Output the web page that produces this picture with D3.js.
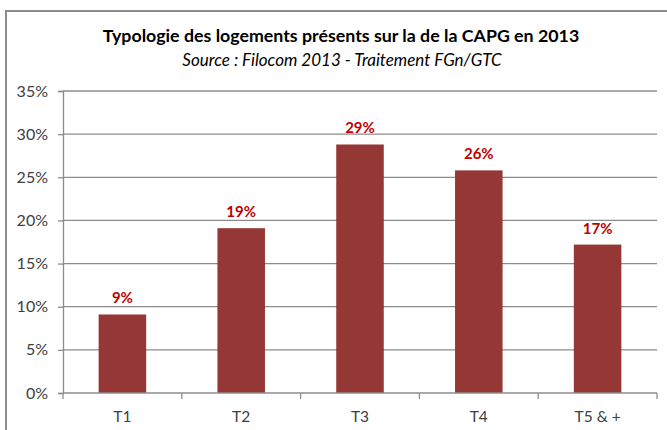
<!DOCTYPE html>
<html>
<head>
<meta charset="utf-8">
<script src="https://cdn.jsdelivr.net/npm/d3@7"></script>
<style>
  body { margin: 0; background: #fff; }
  svg { font-family: Lato, "Open Sans", sans-serif; }
</style>
</head>
<body>
<div id="vis-container"></div>
<script>
// chart data
var categories = ["T1", "T2", "T3", "T4", "T5 & +"];
var shares = [0.091, 0.191, 0.288, 0.258, 0.172];
var valueLabels = ["9%", "19%", "29%", "26%", "17%"];
var yTicks = [0, 0.05, 0.10, 0.15, 0.20, 0.25, 0.30, 0.35];

var width = 667;
var height = 430;
var margins = { top: 91, right: 10, bottom: 37, left: 63 };
var visWidth = width - margins.left - margins.right;
var visHeight = height - margins.top - margins.bottom;

var svg = d3.select("#vis-container").append("svg")
    .attr("width", width)
    .attr("height", height);

// outer frame (only top and left visible)
svg.append("path")
    .attr("d", "M6,430 V11 H667")
    .attr("fill", "none")
    .attr("stroke", "#8c8c8c")
    .attr("stroke-width", 2);

svg.append("text")
    .text("Typologie des logements présents sur la de la CAPG en 2013")
    .attr("x", 341)
    .attr("y", 42)
    .attr("text-anchor", "middle")
    .attr("font-size", 17.8)
    .attr("font-weight", "bold")
    .attr("fill", "#000");

svg.append("text")
    .text("Source : Filocom 2013 - Traitement FGn/GTC")
    .attr("x", 342)
    .attr("y", 66)
    .attr("text-anchor", "middle")
    .attr("font-size", 17)
    .attr("font-style", "italic")
    .attr("fill", "#000");

var viewport = svg.append("g")
    .attr("transform", "translate(" + margins.left + "," + margins.top + ")");

var xScale = d3.scaleBand().domain(categories).range([0, visWidth]).paddingInner(0.6).paddingOuter(0.3);
var xAxisScale = d3.scaleBand().domain(categories).range([0, visWidth]);
var yScale = d3.scaleLinear().domain([0, 0.35]).range([visHeight, 0]);

// gridlines
viewport.append("g")
    .selectAll("line")
    .data(yTicks.slice(1))
    .enter().append("line")
    .attr("x1", 0)
    .attr("x2", visWidth)
    .attr("y1", d => yScale(d))
    .attr("y2", d => yScale(d))
    .attr("stroke", "#8c8c8c")
    .attr("stroke-width", 1.3);

// y axis
var yAxis = viewport.append("g")
    .call(d3.axisLeft(yScale).tickValues(yTicks).tickFormat(d3.format(".0%")).tickSize(5).tickPadding(10));
yAxis.select(".domain").attr("stroke", "#8c8c8c").attr("stroke-width", 1.3);
yAxis.selectAll(".tick line").attr("stroke", "#8c8c8c").attr("stroke-width", 1.3);
yAxis.selectAll(".tick text").attr("font-size", 16).attr("fill", "#404040").attr("font-family", "Lato, sans-serif");

// bars
viewport.selectAll("rect.bar")
    .data(categories)
    .enter().append("rect")
    .attr("class", "bar")
    .attr("x", d => xScale(d))
    .attr("width", xScale.bandwidth())
    .attr("y", (d, i) => yScale(shares[i]))
    .attr("height", (d, i) => visHeight - yScale(shares[i]))
    .attr("fill", "#953735");

// value labels
viewport.selectAll("text.val")
    .data(categories)
    .enter().append("text")
    .attr("class", "val")
    .text((d, i) => valueLabels[i])
    .attr("x", d => xScale(d) + xScale.bandwidth() / 2)
    .attr("y", (d, i) => yScale(shares[i]) - 11)
    .attr("text-anchor", "middle")
    .attr("font-size", 15)
    .attr("font-weight", "bold")
    .attr("fill", "#c00000");

// x axis
var xAxisG = viewport.append("g")
    .attr("transform", "translate(0," + visHeight + ")");
xAxisG.append("line")
    .attr("x1", 0).attr("x2", visWidth)
    .attr("stroke", "#8c8c8c").attr("stroke-width", 1.3);
xAxisG.selectAll("line.tk")
    .data(d3.range(categories.length + 1))
    .enter().append("line")
    .attr("class", "tk")
    .attr("x1", i => i * xAxisScale.step())
    .attr("x2", i => i * xAxisScale.step())
    .attr("y1", 0).attr("y2", 6)
    .attr("stroke", "#8c8c8c").attr("stroke-width", 1.3);
xAxisG.selectAll("text")
    .data(categories)
    .enter().append("text")
    .text(d => d)
    .attr("x", d => xAxisScale(d) + xAxisScale.bandwidth() / 2)
    .attr("y", 29)
    .attr("text-anchor", "middle")
    .attr("font-size", 15.5)
    .attr("fill", "#404040");
</script>
</body>
</html>
